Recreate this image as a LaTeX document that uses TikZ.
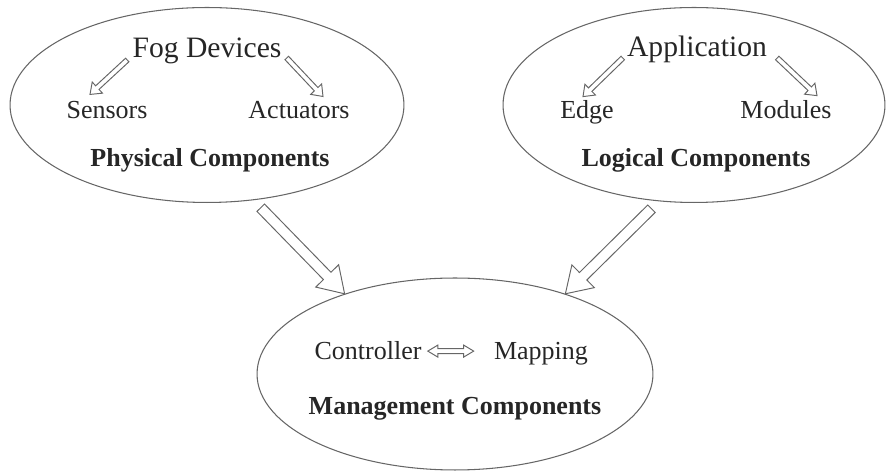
\documentclass[tikz,border=0pt]{standalone}
\usepackage{fontspec}
\setmainfont{Liberation Serif}
\usetikzlibrary{calc}
\usetikzlibrary{shapes.geometric}

% outlined block arrow: from, to, shaft half width, head half width, head length
\newcommand{\hollowarrow}[5]{%
  \path (#1) coordinate (ha-s) (#2) coordinate (ha-e);
  \path ($(ha-e)!#5!(ha-s)$) coordinate (ha-b);
  \draw[arrowline] ($(ha-s)!#3!90:(ha-e)$) -- ($(ha-b)!#3!90:(ha-e)$)
    -- ($(ha-b)!#4!90:(ha-e)$) -- (ha-e) -- ($(ha-b)!#4!-90:(ha-e)$)
    -- ($(ha-b)!#3!-90:(ha-e)$) -- ($(ha-s)!#3!-90:(ha-e)$) -- cycle;
}
% same, with a head at both ends
\newcommand{\hollowdblarrow}[5]{%
  \path (#1) coordinate (ha-s) (#2) coordinate (ha-e);
  \path ($(ha-s)!#5!(ha-e)$) coordinate (ha-a) ($(ha-e)!#5!(ha-s)$) coordinate (ha-b);
  \draw[arrowline] (ha-s) -- ($(ha-a)!#4!90:(ha-e)$) -- ($(ha-a)!#3!90:(ha-e)$)
    -- ($(ha-b)!#3!90:(ha-e)$) -- ($(ha-b)!#4!90:(ha-e)$) -- (ha-e)
    -- ($(ha-b)!#4!-90:(ha-e)$) -- ($(ha-b)!#3!-90:(ha-e)$)
    -- ($(ha-a)!#3!-90:(ha-e)$) -- ($(ha-a)!#4!-90:(ha-e)$) -- cycle;
}

\begin{document}
\begin{tikzpicture}[x=0.02cm,y=-0.02cm,
    comp/.style={draw=black!60,line width=0.6pt,ellipse,inner sep=0pt},
    title/.style={font=\fontsize{16.85}{20}\selectfont,inner sep=0pt,anchor=base,text=black!85},
    item/.style={font=\fontsize{14.8}{18}\selectfont,inner sep=0pt,anchor=base,text=black!85},
    heading/.style={item,font=\fontsize{14.8}{18}\selectfont\bfseries},
    arrowline/.style={draw=black!60,line width=0.55pt,line join=miter}]
  \useasboundingbox (0,0) rectangle (887,472);

  % the three groups
  \node[comp,minimum width=7.88cm,minimum height=3.9cm] (phys) at (207,105) {};
  \node[comp,minimum width=7.64cm,minimum height=3.9cm] (logic) at (694,105) {};
  \node[comp,minimum width=7.92cm,minimum height=3.84cm] (mgmt) at (455,374) {};

  % physical
  \node[title] (fog) at (207,58) {Fog Devices};
  \node[item] (sensors) at (107,119) {Sensors};
  \node[item] (actuators) at (299,119) {Actuators};
  \node[heading] (physlabel) at (210,167) {Physical Components};

  % logical
  \node[title] (app) at (697,57) {Application};
  \node[item] (edge) at (587,119) {Edge};
  \node[item] (modules) at (786,119) {Modules};
  \node[heading] (logiclabel) at (696,167) {Logical Components};

  % management
  \node[item] (ctrl) at (368,360) {Controller};
  \node[item] (map) at (541,360) {Mapping};
  \node[heading] (mgmtlabel) at (455,415) {Management Components};

  \hollowarrow{$(fog.base west)+(-5,2)$}{$(sensors.north)+(-17,-7)$}{1.4pt}{4.3pt}{5.7pt}
  \hollowarrow{$(fog.base east)+(5,0)$}{$(actuators.north)+(24,-5)$}{1.4pt}{4.3pt}{5.7pt}
  \hollowarrow{$(app.base west)+(-4,1)$}{$(edge.north)+(-4,-4)$}{1.4pt}{4.3pt}{5.7pt}
  \hollowarrow{$(app.base east)+(10,1)$}{$(modules.north)+(31,-5)$}{1.4pt}{4.3pt}{5.7pt}

  \hollowarrow{$(phys.-64)!0.08!(mgmt.144)$}{mgmt.144}{3pt}{9.1pt}{14.2pt}
  \hollowarrow{$(logic.-110)!0.08!(mgmt.36)$}{mgmt.36}{3pt}{9.1pt}{14.2pt}

  \hollowdblarrow{$(ctrl.east)+(6,0)$}{$(map.west |- ctrl.east)+(-20,0)$}{1.4pt}{3.4pt}{5.7pt}
\end{tikzpicture}
\end{document}
